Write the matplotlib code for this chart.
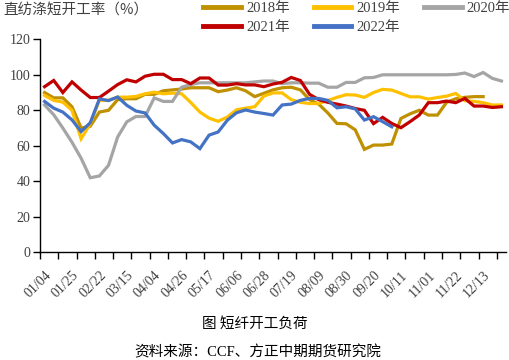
import matplotlib
matplotlib.use("Agg")
import matplotlib.pyplot as plt
import numpy as np

# ---- data ----
tick_labels = ["01/04", "01/25", "02/22", "03/15", "04/04", "04/26", "05/17", "06/06", "06/28",
               "07/19", "08/09", "08/30", "09/20", "10/11", "11/01", "11/22", "12/13"]
n_cat = 51

y2018 = [90, 87, 87, 82, 70, 71, 79, 80, 86, 86.5, 86.5, 89, 89, 91, 91.5, 92, 92.7, 92.7, 92.7,
         90.5, 91.4, 92.7, 91, 87.7, 89.6, 91.5, 92.7, 93, 91.5, 86, 83.5, 78.5, 72.6, 72.4, 69,
         58, 60.4, 60.4, 61, 75.4, 78, 80, 77.3, 77.3, 84.5, 86.5, 87.3, 87.7, 87.7]
y2019 = [88.4, 85.6, 84.6, 80, 64, 72.4, 85.6, 85.6, 87.4, 87.4, 87.8, 89.3, 90.2, 89.3, 89.7,
         89.3, 84.4, 79, 75.6, 73.8, 76.2, 80.3, 81.2, 82, 88, 89.8, 89.8, 86, 84.5, 83.8, 83.8,
         85.5, 87.3, 88.8, 88.6, 87.3, 90, 91.8, 91.4, 89.5, 87.6, 87.6, 86.3, 87.2, 88, 89.5,
         85.4, 85, 84.3, 83, 83]
y2020 = [83, 77.5, 70, 62, 53, 42, 43, 49, 65, 73.5, 76.5, 76.5, 87, 85, 85, 93, 94.5, 95.5, 95.5,
         95.5, 95.5, 95.5, 95.5, 96, 96.5, 96.5, 95, 95.5, 95.5, 95.3, 95.3, 93, 93, 95.7, 95.7,
         98.3, 98.5, 100, 100, 100, 100, 100, 100, 100, 100, 100.2, 101, 99, 101.3, 98, 96.5]
y2021 = [93.3, 96.8, 90, 96, 91.4, 87.2, 87.2, 90.8, 94.5, 97.2, 96, 99.2, 100.3, 100.3, 97.3,
         97.3, 95, 98.2, 98.2, 94.2, 94.2, 95, 94.3, 94.3, 93.3, 94.8, 95.8, 98.5, 96.8, 89, 86,
         84.5, 83.5, 82.4, 81, 80, 72.5, 76, 72.6, 70.2, 73.6, 77.3, 84.3, 84.3, 85.2, 84.3, 86.7,
         82.4, 82.4, 81.6, 82]
y2022 = [85, 81.2, 79, 74.6, 68, 73, 86.4, 85.5, 87.5, 82.8, 79.6, 78.5, 71.6, 66.9, 61.6, 63.5,
         62.2, 58.4, 66, 67.8, 74.4, 78.6, 80.2, 79, 78.2, 77.3, 83, 83.5, 85.6, 86.7, 86.7, 85.6,
         81.4, 82, 80.8, 74.5, 76.4, 73.6, 70.7]

series = [("2018年", y2018, "#BF9000"),
          ("2019年", y2019, "#FFC000"),
          ("2020年", y2020, "#A5A5A5"),
          ("2021年", y2021, "#C00000"),
          ("2022年", y2022, "#4472C4")]

fonts = ["Liberation Serif", "Noto Sans CJK SC", "DejaVu Sans"]
cjk = ["Noto Sans CJK SC", "DejaVu Sans"]
txt = "#404040"

fig = plt.figure(figsize=(5.09, 3.6), dpi=100)
ax = fig.add_axes([40 / 509, 1 - 252.3 / 360, 466 / 509, 213 / 360])

lines = {}
for name, vals, col in series:
    x = np.arange(len(vals))
    ln, = ax.plot(x, vals, color=col, lw=2.3, label=name, solid_joinstyle="miter")
    lines[name] = ln

ax.set_xlim(-0.5, n_cat - 0.5)
ax.set_ylim(0, 120)
ax.set_yticks(np.arange(0, 121, 20))

ax.set_xticks(np.arange(0, 3 * len(tick_labels), 3))
ax.set_xticklabels(tick_labels, rotation=45, ha="right", va="top", rotation_mode="anchor")
ax.set_xticks(np.arange(-0.5, n_cat, 2), minor=True)
ax.tick_params(axis="x", which="major", length=0, pad=12)
ax.tick_params(axis="x", which="minor", length=5, width=1, color="black", direction="out")
ax.tick_params(axis="y", length=5, width=1, color="black", direction="out", pad=2)
for lab in ax.get_xticklabels() + ax.get_yticklabels():
    lab.set_fontfamily(fonts)
    lab.set_fontsize(10)
    lab.set_color(txt)

for s in ["top", "right"]:
    ax.spines[s].set_visible(False)
for s in ["left", "bottom"]:
    ax.spines[s].set_linewidth(1)
    ax.spines[s].set_color("black")

# legend: row 1 -> 2018, 2019, 2020 ; row 2 -> 2021, 2022
order = ["2018年", "2021年", "2019年", "2022年", "2020年"]
leg = fig.legend([lines[k] for k in order], order, ncol=3, loc="upper left",
                 bbox_to_anchor=(202 / 509, 1.0), frameon=False, handlelength=2.6,
                 handletextpad=0.35, columnspacing=1.6, labelspacing=0.4,
                 borderaxespad=0, borderpad=0.1,
                 prop={"family": fonts, "size": 10.5})
for t in leg.get_texts():
    t.set_color(txt)
for h in leg.legend_handles:
    h.set_linewidth(3.5)

fig.text(3 / 509, 1 - 11 / 360, "直纺涤短开工率（%）", family=cjk, fontsize=10.5,
         color=txt, ha="left", va="center")
fig.text(255 / 509, 1 - 324 / 360, "图 短纤开工负荷", family=cjk, fontsize=10.5,
         color="black", ha="center", va="center")
fig.text(258 / 509, 1 - 352 / 360, "资料来源：CCF、方正中期期货研究院", family=fonts,
         fontsize=10.5, color="black", ha="center", va="center")

fig.savefig("out.png", dpi=100)
